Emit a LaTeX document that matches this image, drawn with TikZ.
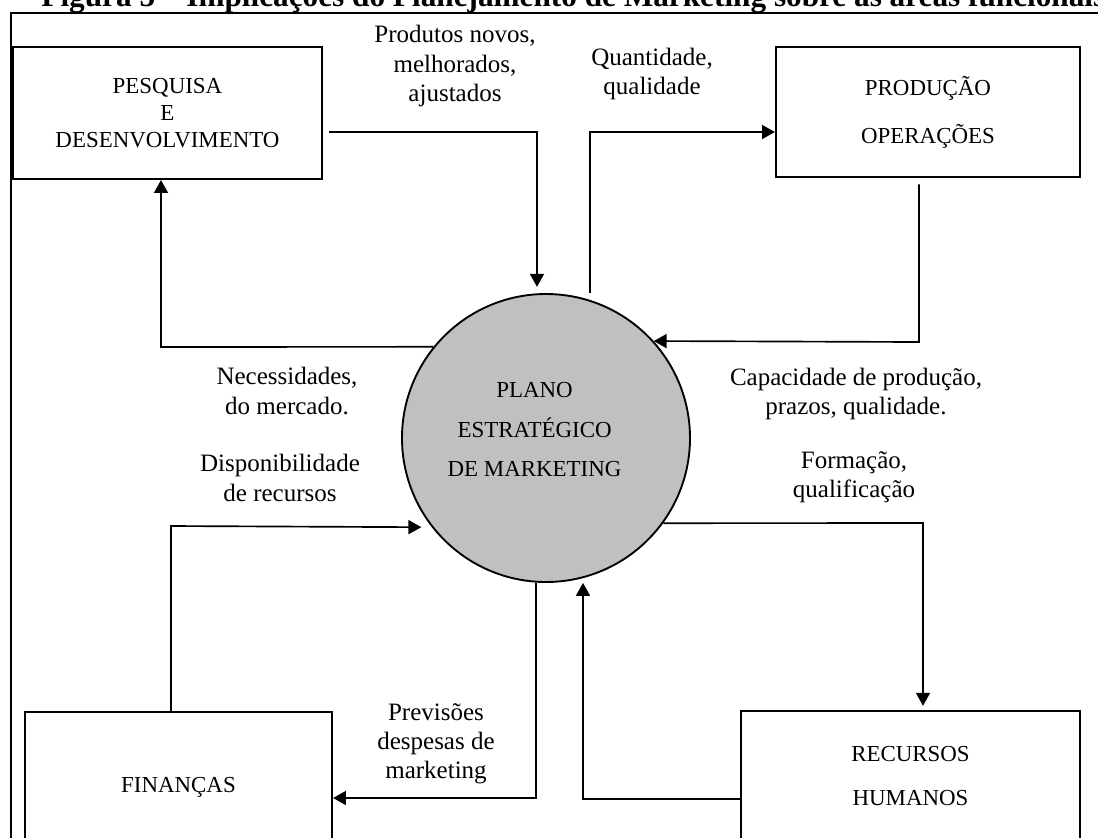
\documentclass[tikz,border=0pt]{standalone}
\usepackage{fontspec}
\setmainfont{Liberation Serif}
\usetikzlibrary{arrows.meta}
\definecolor{planogray}{RGB}{192,192,192}
\newcommand{\px}{0.48pt}

\begin{document}
\begin{tikzpicture}[x=\px, y=-\px,
	area/.style={draw, rectangle, line width=1pt, align=center, inner sep=0pt, font=\fontsize{11}{13}\selectfont},
	rotulo/.style={align=center, inner sep=0pt, font=\fontsize{12}{14}\selectfont},
	link/.style={line width=0.8pt, -{Triangle[length=6.2pt,width=6.7pt]}}]
				\useasboundingbox (0,0) rectangle (1098,837);
				\clip (0,0) rectangle (1098,837);
				
				% Title and frame
				\node (titulo) [anchor=base west, inner sep=0pt, font=\bfseries\fontsize{15}{18}\selectfont] at (41,6) {Figura 5 – Implicações do Planejamento de Marketing sobre as áreas funcionais};
				\draw[line width=1pt] (11,13) rectangle (1120,870);
				
				\node (pesq) [area, minimum width=309*\px, minimum height=132*\px] at (167.5,113) {PESQUISA\\E\\DESENVOLVIMENTO};
				\node (prod) [area, minimum width=304*\px, minimum height=130*\px, font=\fontsize{11}{23}\selectfont] at (928,112) {PRODUÇÃO\\OPERAÇÕES};
				\node (fin) [area, minimum width=307*\px, minimum height=150*\px] at (178.5,787) {FINANÇAS};
				\node (rh) [area, minimum width=339*\px, minimum height=130*\px, font=\fontsize{11}{21}\selectfont] at (910.5,776) {RECURSOS\\HUMANOS};
				\node (plano) [circle, draw, fill=planogray, line width=0.9pt, minimum size=288*\px, inner sep=0pt,
					label={[name=planotxt, align=center, xshift=-5.5pt, yshift=4pt, font=\fontsize{11}{19}\selectfont]center:PLANO\\ESTRATÉGICO\\DE MARKETING}] at (546,438) {};
				
				% Labels
				\node (lprod) [rotulo] at (455,66) {Produtos novos,\\melhorados,\\ajustados};
				\node (lqual) [rotulo] at (652,74) {Quantidade,\\qualidade};
				\node (lnec) [rotulo] at (287,391) {Necessidades,\\do mercado.};
				\node (ldisp) [rotulo] at (280,478) {Disponibilidade\\de recursos};
				\node (lcap) [rotulo] at (856,394) {Capacidade de produção,\\prazos, qualidade.};
				\node (lform) [rotulo] at (854,477) {Formação,\\qualificação};
				\node (lprev) [rotulo] at (436,744) {Previsões\\despesas de\\marketing};
				
				% Bends
				\coordinate (pdA) at (537,132);
				\coordinate (qtA) at (590,132);
				\coordinate (cpA) at (919,342);
				\coordinate (ndA) at (161,347);
				\coordinate (fqA) at (923,523);
				\coordinate (hrA) at (583,799);
				\coordinate (pvA) at (536,798);
				\coordinate (drA) at (171,526);
				
				% Arrows
				\draw[link, shorten <=3pt, shorten >=3pt] (pesq.east |- pdA) -- (pdA) -- (plano.north -| pdA);
				\draw[link] (qtA |- plano.north) -- (qtA) -- (prod.west |- qtA);
				\draw[link, shorten <=3pt] (prod.south -| cpA) -- (cpA) -- (plano.42);
				\draw[link] (plano.141) -- (ndA) -- (pesq.south -| ndA);
				\draw[link, shorten >=2pt] (plano.-36) -- (fqA) -- (rh.north -| fqA);
				\draw[link] (rh.west |- hrA) -- (hrA) -- (plano.south -| hrA);
				\draw[link] (plano.south -| pvA) -- (pvA) -- (fin.east |- pvA);
				\draw[link, shorten >=5pt] (fin.north -| drA) -- (drA) -- (plano.218);
			\end{tikzpicture}
\end{document}
